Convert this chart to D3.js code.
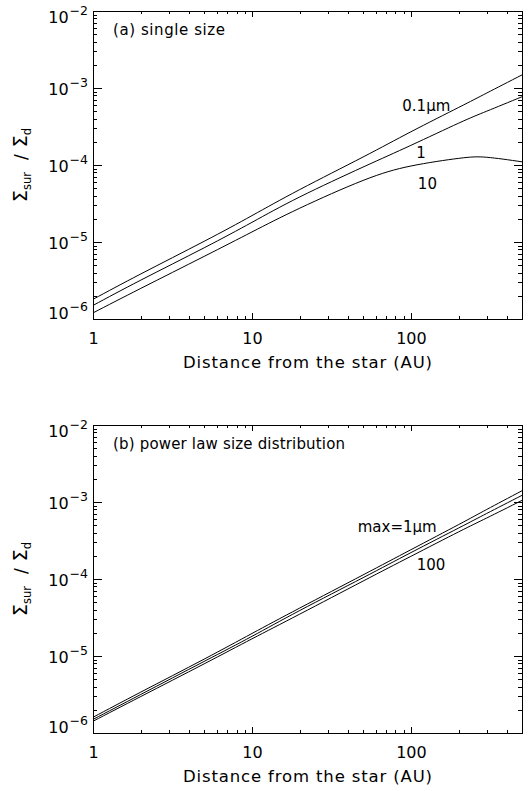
<!DOCTYPE html>
<html>
<head>
<meta charset="utf-8">
<script src="https://cdn.jsdelivr.net/npm/d3@7"></script>
<style>
body { margin: 0; background: #fff; }
text { font-family: "DejaVu Sans", sans-serif; fill: #000; }
.axis path, .axis line { stroke: #000; stroke-width: 1; shape-rendering: crispEdges; }
.curve { fill: none; stroke: #000; stroke-width: 1; }
</style>
</head>
<body>
<script>
// distance from the star (AU)
var radius = [1, 2, 5, 10, 20, 50, 100, 200, 300, 500];

// (a) single size
var single01 = [1.8e-6, 3.85e-6, 1.02e-5, 2.2e-5, 4.8e-5, 1.27e-4, 2.7e-4, 5.6e-4, 8.6e-4, 1.48e-3];
var single1  = [1.5e-6, 3.2e-6, 8.4e-6, 1.8e-5, 3.85e-5, 9.4e-5, 1.8e-4, 3.5e-4, 5.0e-4, 7.7e-4];
var single10 = [1.2e-6, 2.5e-6, 6.5e-6, 1.35e-5, 2.75e-5, 6.3e-5, 9.7e-5, 1.22e-4, 1.26e-4, 1.1e-4];

// (b) power law size distribution
var power1   = [1.6e-6, 3.4e-6, 9.1e-6, 1.96e-5, 4.2e-5, 1.13e-4, 2.4e-4, 5.1e-4, 8.0e-4, 1.4e-3];
var power10  = [1.5e-6, 3.17e-6, 8.5e-6, 1.8e-5, 3.9e-5, 1.04e-4, 2.2e-4, 4.6e-4, 7.1e-4, 1.22e-3];
var power100 = [1.42e-6, 2.98e-6, 7.9e-6, 1.67e-5, 3.5e-5, 9.4e-5, 1.97e-4, 4.1e-4, 6.2e-4, 1.05e-3];

var xTicks = [1, 10, 100];
var xTickLabels = ["1", "10", "100"];
var yTicks = [1e-6, 1e-5, 1e-4, 1e-3, 1e-2];
var yTickExps = ["6", "5", "4", "3", "2"];

var width = 530, height = 791;
var left = 93, right = 522, plotH = 308;

var svg = d3.select("body").append("svg").attr("width", width).attr("height", height);

var x = d3.scaleLog().domain([1, 500]).range([left, right]);

// minor ticks
var xMinor = [];
[1, 10, 100].forEach(function(d) {
  for (var k = 2; k <= 9; k++) { if (k * d < 500) xMinor.push(k * d); }
});
var yMinor = [];
[1e-6, 1e-5, 1e-4, 1e-3].forEach(function(d) {
  for (var k = 2; k <= 9; k++) yMinor.push(k * d);
});

var line = d3.line().curve(d3.curveNatural);

function panel(top, series, title, titleLen, labels) {
  var bottom = top + plotH;
  var y = d3.scaleLog().domain([1e-6, 1e-2]).range([bottom, top]);
  var g = svg.append("g");

  // axes, ticks on all sides pointing inward
  g.append("g").attr("class", "axis").attr("transform", "translate(0," + bottom + ")")
    .call(d3.axisBottom(x).tickValues(xTicks).tickSize(-6).tickSizeOuter(0).tickPadding(14)
      .tickFormat(function(d, i) { return xTickLabels[i]; }))
    .selectAll("text").attr("font-size", 16).attr("font-family", "DejaVu Sans").attr("fill", "#000");
  g.append("g").attr("class", "axis").attr("transform", "translate(0," + bottom + ")")
    .call(d3.axisBottom(x).tickValues(xMinor).tickSize(-3).tickSizeOuter(0).tickFormat(""));
  g.append("g").attr("class", "axis").attr("transform", "translate(0," + top + ")")
    .call(d3.axisTop(x).tickValues(xTicks).tickSize(-6).tickSizeOuter(0).tickFormat(""));
  g.append("g").attr("class", "axis").attr("transform", "translate(0," + top + ")")
    .call(d3.axisTop(x).tickValues(xMinor).tickSize(-3).tickSizeOuter(0).tickFormat(""));

  g.append("g").attr("class", "axis").attr("transform", "translate(" + left + ",0)")
    .call(d3.axisLeft(y).tickValues(yTicks).tickSize(-8.5).tickSizeOuter(0).tickFormat(""));
  g.append("g").attr("class", "axis").attr("transform", "translate(" + left + ",0)")
    .call(d3.axisLeft(y).tickValues(yMinor).tickSize(-4.3).tickSizeOuter(0).tickFormat(""));
  g.append("g").attr("class", "axis").attr("transform", "translate(" + right + ",0)")
    .call(d3.axisRight(y).tickValues(yTicks).tickSize(-8.5).tickSizeOuter(0).tickFormat(""));
  g.append("g").attr("class", "axis").attr("transform", "translate(" + right + ",0)")
    .call(d3.axisRight(y).tickValues(yMinor).tickSize(-4.3).tickSizeOuter(0).tickFormat(""));

  // y tick labels 10^-n, kept inside the axis span
  yTicks.forEach(function(v, i) {
    var base = Math.min(Math.max(y(v) + 7, top + 12), bottom);
    var t = g.append("text").attr("x", 88).attr("y", base).attr("text-anchor", "end").attr("font-size", 16);
    t.append("tspan").text("10");
    t.append("tspan").attr("dy", -8).attr("font-size", 12.5).attr("dx", 1).text("\u2212" + yTickExps[i]);
  });

  // x title
  g.append("text").attr("x", 183).attr("y", bottom + 49)
    .attr("textLength", 249).attr("lengthAdjust", "spacing")
    .attr("font-size", 16.5).text("Distance from the star (AU)");

  // y title
  var cy = (top + bottom) / 2;
  var yl = g.append("text").attr("transform", "translate(27," + cy + ") rotate(-90)")
    .attr("text-anchor", "middle").attr("font-size", 19);
  yl.append("tspan").text("\u03A3");
  yl.append("tspan").attr("font-size", 11.5).attr("dy", 4).text("sur");
  yl.append("tspan").attr("dy", -4).attr("dx", 12).attr("font-size", 17).text("/");
  yl.append("tspan").attr("dx", 7).text("\u03A3");
  yl.append("tspan").attr("font-size", 11.5).attr("dy", 4).text("d");

  g.append("text").attr("x", 113).attr("y", top + 24).attr("font-size", 15)
    .attr("textLength", titleLen).attr("lengthAdjust", "spacing").text(title);

  series.forEach(function(s) {
    g.append("path").attr("class", "curve")
      .attr("d", line(radius.map(function(r, i) { return [x(r), y(s[i])]; })));
  });

  labels.forEach(function(l) {
    g.append("text").attr("x", x(l.r)).attr("y", y(l.v)).attr("text-anchor", "middle")
      .attr("font-size", 15).text(l.text);
  });
}

panel(11, [single01, single1, single10], "(a) single size", 112, [
  {text: "0.1\u03BCm", r: 125, v: 5.0e-4},
  {text: "1", r: 116, v: 1.25e-4},
  {text: "10", r: 127, v: 4.9e-5}
]);
panel(425, [power1, power10, power100], "(b) power law size distribution", 232, [
  {text: "max=1\u03BCm", r: 82, v: 4.1e-4},
  {text: "100", r: 134, v: 1.3e-4}
]);
</script>
</body>
</html>
